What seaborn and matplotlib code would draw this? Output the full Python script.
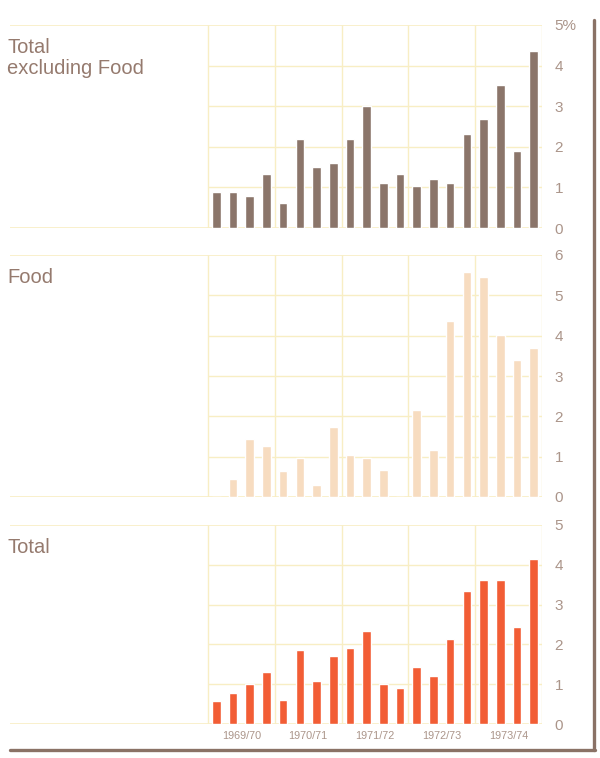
import matplotlib
matplotlib.use('Agg')
import matplotlib.pyplot as plt
from matplotlib.lines import Line2D
import seaborn as sns
import pandas as pd

# data (quarterly % change)
years = ['1969/70', '1970/71', '1971/72', '1972/73', '1973/74']
quarters = [f'{y} Q{q}' for y in years for q in range(1, 5)]

excl_food = [0.88, 0.88, 0.80, 1.33, 0.61, 2.20, 1.50, 1.61, 2.19, 3.01,
             1.12, 1.33, 1.04, 1.20, 1.11, 2.32, 2.68, 3.51, 1.90, 4.35]
food = [0.0, 0.44, 1.44, 1.27, 0.64, 0.96, 0.29, 1.73, 1.04, 0.97,
        0.67, 0.0, 2.15, 1.16, 4.37, 5.57, 5.46, 4.01, 3.39, 3.70]
total = [0.58, 0.79, 1.00, 1.30, 0.61, 1.86, 1.08, 1.71, 1.91, 2.33,
         1.01, 0.91, 1.43, 1.20, 2.13, 3.34, 3.61, 3.61, 2.44, 4.15]

panels = [
    ('Total\nexcluding Food', excl_food, '#8b756a', 5, (25, 228), True),
    ('Food', food, '#f7dcc0', 6, (255, 497), False),
    ('Total', total, '#f25d35', 5, (525, 724), False),
]

sns.set_theme(style='white')
plt.rcParams['font.family'] = ['Liberation Sans', 'DejaVu Sans']

W, H = 600, 758
fig = plt.figure(figsize=(W / 100, H / 100), dpi=100)

grid_col = '#f8eec4'
text_col = '#957a6e'
tick_col = '#ab958a'

x_left_px, x_grid_px, x_right_px = 10, 208, 542
slot = (x_right_px - x_grid_px) / 20
x_min = -0.5 - (x_grid_px - x_left_px) / slot

for title, vals, col, top, (y0, y1), pct in panels:
    ax = fig.add_axes([x_left_px / W, 1 - y1 / H, (x_right_px - x_left_px) / W, (y1 - y0) / H])
    df = pd.DataFrame({'quarter': quarters, 'value': vals})
    sns.barplot(data=df, x='quarter', y='value', color=col, saturation=1,
                width=0.52, ax=ax, zorder=3)
    ax.set_xlim(x_min, 19.5)
    ax.set_ylim(0, top)
    for s in ax.spines.values():
        s.set_visible(False)
    # grid: interior horizontals only over the bar area, top and base full width
    for v in range(1, top):
        ax.hlines(v, -0.5, 19.5, color=grid_col, lw=1, zorder=1)
    ax.hlines([0, top], x_min, 19.5, color=grid_col, lw=1.2, zorder=1)
    ax.vlines([-0.5 + 4 * k for k in range(6)], 0, top, color=grid_col, lw=1, zorder=1)
    ax.set_xticks([])
    ax.set_xlabel('')
    ax.set_ylabel('')
    ax.yaxis.tick_right()
    ax.set_yticks(range(top + 1))
    labels = [str(v) for v in range(top + 1)]
    if pct:
        labels[-1] = f'{top}%'
    ax.set_yticklabels(labels, color=tick_col, fontsize=11)
    ax.tick_params(axis='y', length=0, pad=9)
    for lab in ax.get_yticklabels():
        lab.set_horizontalalignment('left')
    ax.set_facecolor('none')
    fig.text(7 / W, 1 - (y0 + 13) / H, title, color=text_col, fontsize=14.5,
             ha='left', va='top', linespacing=1.12)

# year labels under the bottom panel
for k, y in enumerate(years):
    xc = x_grid_px + slot * (4 * k + 2)
    fig.text(xc / W, 1 - 736 / H, y, color=tick_col, fontsize=7.8, ha='center', va='center')

# brown frame at right and bottom
frame_col = '#8a7266'
fig.add_artist(Line2D([594 / W, 594 / W], [1 - 20 / H, 1 - 750 / H], color=frame_col, lw=2.4))
fig.add_artist(Line2D([10 / W, 595 / W], [1 - 750 / H, 1 - 750 / H], color=frame_col, lw=2.4))

fig.savefig('out.png', dpi=100, facecolor='white')
